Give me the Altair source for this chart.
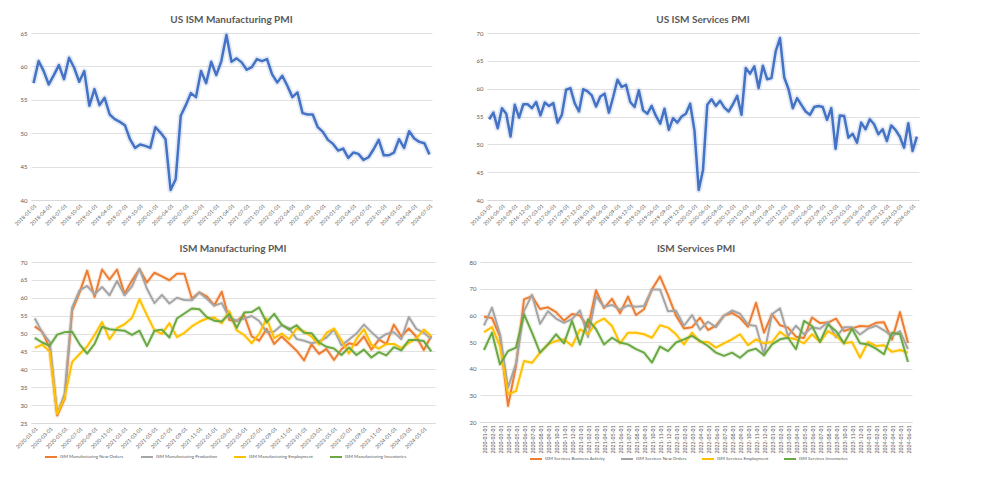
import altair as alt
import pandas as pd

FONT = "Lato"
TXT = "#595959"
GRID = "#D9D9D9"
BLUE = "#4472C4"


def months(start, n):
    return [d.strftime("%Y-%m-%d") for d in pd.date_range(start, periods=n, freq="MS")]


# ---------------- US ISM Manufacturing PMI (2018-01 .. 2024-07) ----------------
mfg_dates = months("2018-01-01", 79)
mfg_pmi = [
    57.5, 60.8, 59.3, 57.3, 58.7, 60.2, 58.1, 61.3, 59.8, 57.7, 59.3, 54.1,
    56.6, 54.2, 55.3, 52.8, 52.1, 51.7, 51.2, 49.1, 47.8, 48.3, 48.1, 47.8,
    50.9, 50.1, 49.1, 41.5, 43.1, 52.6, 54.2, 56.0, 55.4, 59.3, 57.5, 60.7,
    58.7, 60.8, 64.7, 60.7, 61.2, 60.6, 59.5, 59.9, 61.1, 60.8, 61.1, 58.8,
    57.6, 58.6, 57.1, 55.4, 56.1, 53.0, 52.8, 52.8, 50.9, 50.2, 49.0, 48.4,
    47.4, 47.7, 46.3, 47.1, 46.9, 46.0, 46.4, 47.6, 49.0, 46.7, 46.7, 47.1,
    49.1, 47.8, 50.3, 49.2, 48.7, 48.5, 46.8,
]

# ---------------- US ISM Services PMI (2016-03 .. 2024-07) ----------------
svc_dates = months("2016-03-01", 101)
svc_pmi = [
    54.5, 55.7, 52.9, 56.5, 55.5, 51.4, 57.1, 54.8, 57.2, 57.2,
    56.5, 57.6, 55.2, 57.5, 56.9, 57.4, 53.9, 55.3, 59.8, 60.1, 57.4, 55.9,
    59.9, 59.5, 58.8, 56.8, 58.6, 59.1, 55.7, 58.5, 61.6, 60.3, 60.7, 57.6,
    56.7, 59.7, 56.1, 55.5, 56.9, 55.1, 53.7, 56.4, 52.6, 54.7, 53.9, 55.0,
    55.5, 57.3, 52.5, 41.8, 45.4, 57.1, 58.1, 56.9, 57.8, 56.6, 55.9, 57.2,
    58.7, 55.3, 63.7, 62.7, 64.0, 60.1, 64.1, 61.7, 61.9, 66.7, 69.1, 62.0,
    59.9, 56.5, 58.3, 57.1, 55.9, 55.3, 56.7, 56.9, 56.7, 54.4, 56.5, 49.2,
    55.2, 55.1, 51.2, 51.9, 50.3, 53.9, 52.7, 54.5, 53.6, 51.8, 52.7, 50.6,
    53.4, 52.6, 51.4, 49.4, 53.8, 48.8, 51.4,
]

# ---------------- Sub-indices (2020-01 .. 2024-06) ----------------
sub_dates = months("2020-01-01", 54)

mfg_names = [
    "ISM Manufacturing New Orders",
    "ISM Manufacturing Production",
    "ISM Manufacturing Employment",
    "ISM Manufacturing Inventories",
]
mfg_new_orders = [
    52.0, 50.5, 46.0, 27.1, 31.8, 56.4, 61.5, 67.6, 60.2, 67.9, 65.1, 67.9,
    61.1, 64.8, 68.0, 64.3, 67.0, 66.0, 64.9, 66.7, 66.7, 59.8, 61.5, 60.4,
    57.9, 61.7, 53.8, 53.5, 55.1, 49.2, 48.0, 51.3, 47.1, 49.2, 47.2, 45.2,
    42.5, 47.0, 44.3, 45.7, 42.6, 45.6, 47.3, 46.8, 49.2, 45.5, 48.3, 47.1,
    52.5, 49.2, 51.4, 49.1, 45.4, 49.3,
]
mfg_production = [
    54.3, 50.3, 47.7, 27.5, 33.2, 57.3, 62.1, 63.3, 61.0, 63.0, 60.7, 64.7,
    60.7, 63.2, 68.1, 62.5, 58.5, 60.8, 58.4, 60.0, 59.4, 59.3, 61.5, 59.7,
    57.8, 58.5, 54.5, 53.6, 54.2, 54.9, 53.5, 50.4, 50.6, 52.3, 51.5, 48.5,
    48.0, 47.3, 47.8, 48.9, 51.1, 46.7, 48.3, 50.0, 52.5, 50.4, 48.5, 49.9,
    50.4, 48.4, 54.6, 51.3, 50.2, 48.5,
]
mfg_employment = [
    46.0, 46.9, 45.0, 27.5, 32.1, 42.1, 44.3, 46.4, 49.6, 53.2, 48.4, 51.5,
    52.6, 54.4, 59.6, 55.1, 50.9, 49.9, 52.9, 49.0, 50.2, 52.0, 53.3, 54.2,
    54.5, 52.9, 56.3, 50.9, 49.6, 47.3, 49.9, 54.2, 48.7, 50.0, 48.4, 51.4,
    50.6, 49.1, 46.9, 50.2, 51.4, 48.1, 44.4, 48.5, 51.2, 46.8, 45.8, 47.1,
    47.1, 45.9, 47.4, 48.6, 51.1, 49.3,
]
mfg_inventories = [
    48.8, 47.5, 46.6, 49.7, 50.4, 50.5, 47.0, 44.4, 47.1, 51.9, 51.2, 51.0,
    50.8, 49.6, 50.8, 46.5, 50.8, 51.1, 48.9, 54.2, 55.6, 57.0, 56.8, 54.6,
    53.6, 53.4, 55.5, 51.6, 55.9, 56.0, 57.3, 53.1, 55.5, 52.5, 51.1, 52.3,
    50.2, 50.1, 47.5, 46.3, 45.8, 44.0, 46.1, 44.0, 45.5, 43.3, 44.8, 43.9,
    46.2, 45.3, 48.2, 48.2, 47.9, 45.0,
]

svc_names = [
    "ISM Services Business Activity",
    "ISM Services New Orders",
    "ISM Services Employment",
    "ISM Services Inventories",
]
svc_business = [
    59.5, 59.0, 52.0, 26.0, 41.0, 66.0, 67.2, 62.4, 63.0, 61.2, 58.0, 60.5,
    59.9, 55.5, 69.4, 62.7, 66.2, 60.8, 67.0, 60.1, 62.3, 69.8, 74.6, 67.6,
    59.9, 55.1, 55.5, 59.1, 54.5, 56.1, 59.9, 60.9, 59.1, 55.7, 64.7, 53.5,
    60.4, 56.3, 55.4, 52.0, 51.5, 59.2, 57.1, 57.3, 58.8, 54.1, 55.1, 56.0,
    55.8, 57.2, 57.4, 50.9, 61.2, 49.6,
]
svc_new_orders = [
    56.2, 62.9, 52.9, 32.9, 41.9, 61.6, 67.7, 56.8, 61.5, 58.8, 57.2, 58.6,
    61.8, 51.9, 67.2, 63.2, 63.9, 62.1, 63.7, 63.2, 63.5, 69.7, 69.7, 61.5,
    61.7, 56.1, 60.1, 54.6, 57.6, 55.6, 59.9, 61.8, 60.6, 56.5, 56.0, 45.2,
    60.4, 62.6, 52.2, 56.1, 52.9, 55.5, 55.0, 57.5, 51.8, 55.5, 55.5, 52.8,
    55.0, 56.1, 54.4, 52.2, 54.1, 47.3,
]
svc_employment = [
    53.7, 55.6, 48.5, 30.4, 31.6, 42.9, 42.2, 46.0, 49.1, 50.4, 51.0, 48.5,
    54.7, 52.9, 57.3, 58.8, 56.0, 49.5, 53.5, 53.5, 52.9, 51.6, 56.3, 55.4,
    52.9, 49.1, 53.5, 50.0, 50.0, 47.9, 49.5, 51.0, 52.9, 48.8, 51.0, 49.5,
    50.0, 53.8, 51.6, 51.0, 49.5, 52.9, 50.0, 54.1, 52.3, 49.5, 50.0, 44.1,
    50.0, 48.5, 48.8, 46.3, 47.0, 46.0,
]
svc_inventories = [
    47.0, 53.5, 41.6, 46.6, 47.9, 60.4, 53.5, 46.0, 49.1, 52.9, 49.5, 57.9,
    49.1, 58.5, 54.8, 49.1, 51.6, 49.8, 49.1, 47.3, 46.0, 42.3, 48.3, 46.6,
    49.8, 51.0, 52.3, 50.4, 48.5, 46.0, 44.8, 46.0, 44.1, 46.6, 47.5, 45.0,
    49.1, 51.0, 51.6, 47.3, 57.9, 56.0, 50.0, 56.6, 54.1, 49.5, 55.0, 49.5,
    49.1, 47.5, 45.4, 53.5, 52.9, 42.5,
]

sub_colors = ["#ED7D31", "#A5A5A5", "#FFC000", "#6AA843"]


def title_params(text):
    return alt.TitleParams(text, fontSize=10, font=FONT, color=TXT, fontWeight="bold",
                           anchor="middle", offset=5)


def y_axis(vals, extent):
    return alt.Axis(values=vals, grid=True, gridColor=GRID, gridWidth=0.8, domain=False,
                    ticks=False, labelFontSize=6, labelColor=TXT, labelFont=FONT,
                    labelPadding=4, minExtent=extent, title=None)


def x_axis(vals, angle):
    return alt.Axis(values=vals, labelAngle=angle, labelFontSize=5.2, labelColor=TXT,
                    labelFont=FONT, labelOverlap=False, ticks=False, domain=True,
                    domainColor=GRID, domainWidth=1, grid=False, title=None,
                    labelPadding=3)


def single_panel(dates, vals, title, ydom, yvals, w, h, ext):
    df = pd.DataFrame({"date": dates, "value": vals})
    base = alt.Chart(df).encode(
        x=alt.X("date:O", scale=alt.Scale(type="point", padding=0.5),
                axis=x_axis(dates[::3], -45)),
        y=alt.Y("value:Q", scale=alt.Scale(domain=ydom, nice=False, zero=False),
                axis=y_axis(yvals, ext)),
    )
    glow = base.mark_line(color=BLUE, strokeWidth=6, opacity=0.15, strokeJoin="round")
    line = base.mark_line(color=BLUE, strokeWidth=2.5, strokeJoin="round")
    return (glow + line).properties(width=w, height=h, title=title_params(title))


def multi_panel(dates, names, series, title, ydom, yvals, tick_vals, angle, w, h, ext,
                lx, ly, lfont, lpad):
    rows = []
    for name, vals in zip(names, series):
        for d, v in zip(dates, vals):
            rows.append({"date": d, "series": name, "value": v})
    df = pd.DataFrame(rows)
    color = alt.Color(
        "series:N",
        scale=alt.Scale(domain=names, range=sub_colors),
        legend=alt.Legend(title=None, orient="none", legendX=lx, legendY=ly,
                          direction="horizontal", symbolType="stroke",
                          symbolStrokeWidth=2, symbolSize=144, symbolOpacity=1,
                          labelFontSize=lfont, labelColor=TXT, labelFont=FONT,
                          columnPadding=lpad, labelOffset=2),
    )
    base = alt.Chart(df).encode(
        x=alt.X("date:O", scale=alt.Scale(type="point", padding=0.5),
                axis=x_axis(tick_vals, angle)),
        y=alt.Y("value:Q", scale=alt.Scale(domain=ydom, nice=False, zero=False),
                axis=y_axis(yvals, ext)),
        color=color,
    )
    glow = base.mark_line(strokeWidth=4.5, opacity=0.15, strokeJoin="round")
    line = base.mark_line(strokeWidth=2, strokeJoin="round")
    return (glow + line).properties(width=w, height=h, title=title_params(title))


tl = single_panel(mfg_dates, mfg_pmi, "US ISM Manufacturing PMI", [40, 65],
                  [40, 45, 50, 55, 60, 65], 401, 167, 18)
tr = single_panel(svc_dates, svc_pmi, "US ISM Services PMI", [40, 70],
                  [40, 45, 50, 55, 60, 65, 70], 432, 167, 14)
bl = multi_panel(sub_dates, mfg_names,
                 [mfg_new_orders, mfg_production, mfg_employment, mfg_inventories],
                 "ISM Manufacturing PMI", [25, 70], [25, 30, 35, 40, 45, 50, 55, 60, 65, 70],
                 sub_dates[::2], -45, 404, 161, 18, 13, 188, 4.5, 13)
br = multi_panel(sub_dates, svc_names,
                 [svc_business, svc_new_orders, svc_employment, svc_inventories],
                 "ISM Services PMI", [20, 80], [20, 30, 40, 50, 60, 70, 80],
                 sub_dates, -90, 432, 160, 12, 49, 190, 4.5, 11)

top = alt.hconcat(tl, tr, spacing=55, bounds="flush").resolve_scale(
    x="independent", y="independent")
bottom = alt.hconcat(bl, br, spacing=45, bounds="flush").resolve_scale(
    x="independent", y="independent", color="independent")

chart = (
    alt.vconcat(top, bottom, spacing=17)
    .resolve_scale(x="independent", y="independent", color="independent")
    .properties(padding={"left": 5, "top": 7, "right": 5, "bottom": 5}, background="white")
    .configure_view(stroke=None)
)

chart.save("out.html", embed_options={"renderer": "svg", "actions": False})
